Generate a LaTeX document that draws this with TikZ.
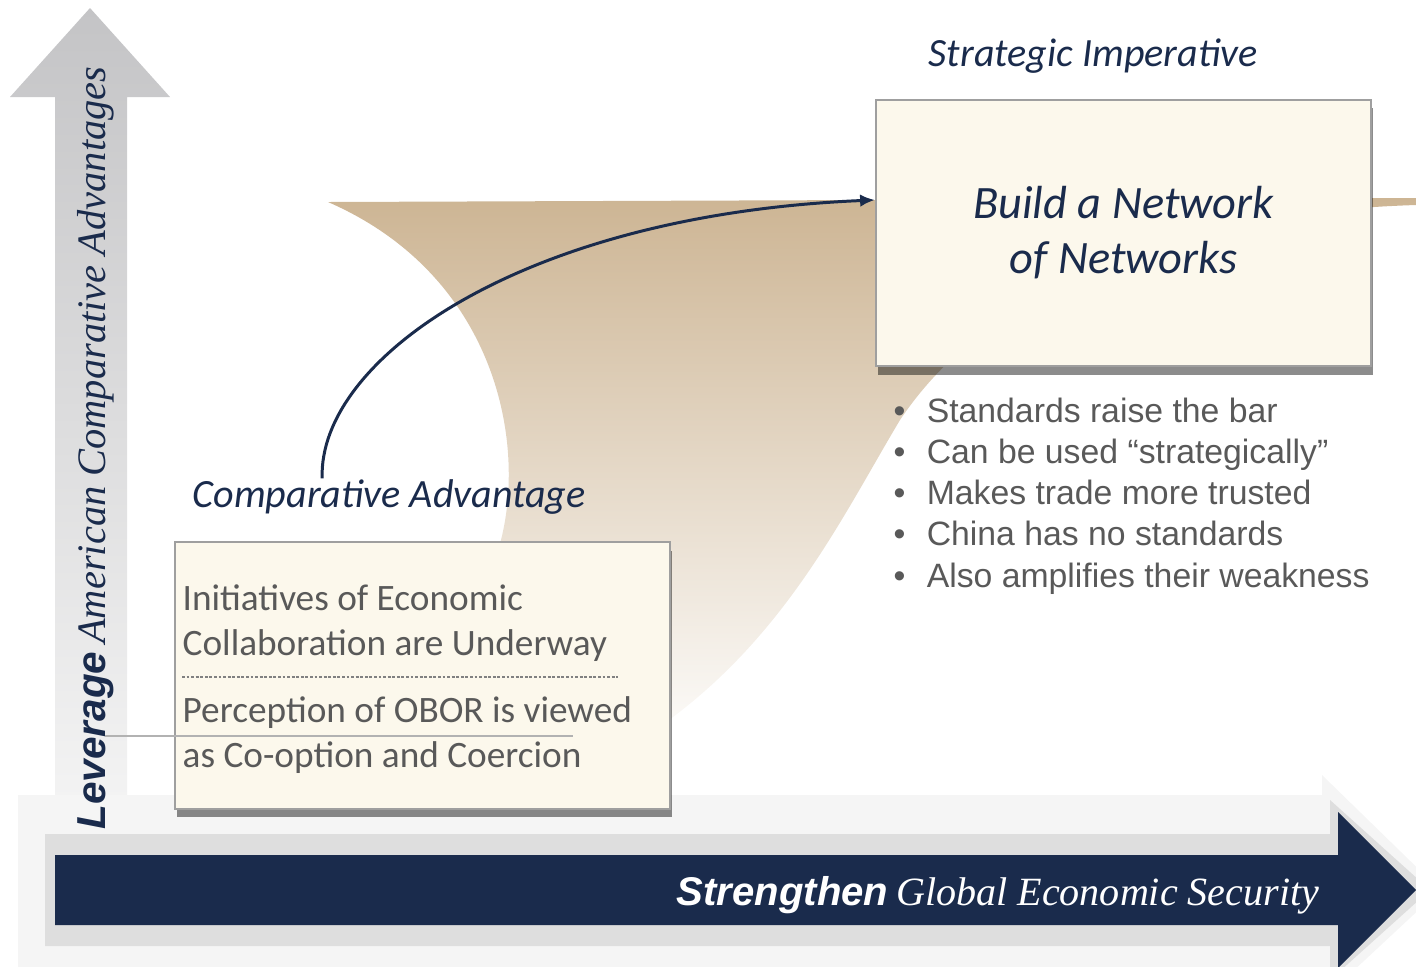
\documentclass[tikz,border=0pt]{standalone}
\usepackage{fontspec}
\setmainfont{Carlito}
\newfontfamily\arialfont{Liberation Sans}
\newfontfamily\timesfont{Liberation Serif}
\usetikzlibrary{arrows.meta, positioning, calc, shadows}
\definecolor{mynavy}{RGB}{26,43,76}
\definecolor{mytan}{RGB}{205,181,148}
\definecolor{mycream}{RGB}{252,248,236}
\definecolor{mygrey}{RGB}{89,89,89}
\definecolor{arrowgrey}{RGB}{196,196,198}

\tikzset{
  card/.style={draw=gray!75, line width=0.6pt, fill=mycream,
    minimum width=140.8pt, minimum height=75.7pt,
    drop shadow={shadow xshift=0.5pt, shadow yshift=-2.4pt, opacity=0.45, fill=black}},
  heading/.style={text=mynavy, font=\itshape\fontsize{11.4}{13}\selectfont, inner sep=0pt},
  boxtext/.style={text=mygrey, align=left, inner sep=0pt, font=\fontsize{10.6}{12.8}\selectfont}
}

\begin{document}
\begin{tikzpicture}[x=0.01cm, y=-0.01cm]
    \clip (0,0) rectangle (1416,966);
    % Vertical axis arrow
    \shade[top color=arrowgrey, bottom color=gray!8]
      (55,830) -- (55,97) -- (10,97) -- (90,8) -- (170,97) -- (127,97) -- (127,830) -- cycle;
    % Horizontal axis arrow (with soft shadow)
    \fill[gray!8] (18,795) -- (1322,795) -- (1322,775) -- (1440,890) -- (1322,1000) -- (1322,985) -- (18,985) -- cycle;
    \fill[gray!26] (45,834) -- (1330,834) -- (1330,800) -- (1430,890) -- (1330,980) -- (1330,946) -- (45,946) -- cycle;
    \fill[mynavy] (55,855) -- (1338,855) -- (1338,812) -- (1416,890) -- (1338,968) -- (1338,925) -- (55,925) -- cycle;
    % Ribbon between the two boxes
    \shade[top color=mytan, middle color=mytan!65, bottom color=mytan!5]
      (328,202) -- (1416,198) -- (1416,205)
      .. controls (1100,215) and (960,330) .. (900,420)
      .. controls (840,520) and (780,650) .. (640,740)
      -- (476,597) .. controls (535,515) and (530,290) .. cycle;
    % Boxes
    \node[card] (lowbox) at (422.5,675.5) {};
    \node[card, text=mynavy, align=center, font=\itshape\fontsize{13.2}{15.6}\selectfont] (impbox) at (1123.5,233) {Build a Network\\of Networks};
    % Labels
    \node[heading, anchor=base west] (stratlbl) at (928,66) {Strategic Imperative};
    \node[heading, anchor=base west] (cadv) at (192,507) {Comparative Advantage};
    \node[boxtext, anchor=base west] (initlbl) at (182,655) {Initiatives of Economic\\Collaboration are Underway};
    \node[boxtext, anchor=base west] (perclbl) at (182,767) {Perception of OBOR is viewed\\as Co-option and Coercion};
    \draw[gray, dash pattern=on 0.8pt off 0.5pt, line width=0.3pt] (182,677) -- (618,677);
    \draw[gray!60, line width=0.4pt] (105,736) -- (573,736);
    \node[anchor=base west, inner sep=0pt, align=left, text=mygrey,
      font=\arialfont\fontsize{9.6}{11.67}\selectfont] (bulletlist) at (893,587)
      {\makebox[9.4pt][l]{\textbullet}Standards raise the bar\\
       \makebox[9.4pt][l]{\textbullet}Can be used “strategically”\\
       \makebox[9.4pt][l]{\textbullet}Makes trade more trusted\\
       \makebox[9.4pt][l]{\textbullet}China has no standards\\
       \makebox[9.4pt][l]{\textbullet}Also amplifies their weakness};
    % Axis titles
    \node[rotate=90, anchor=base west, inner sep=0pt, text=mynavy] (ylbl) at (105,830)
      {{\arialfont\bfseries\itshape\fontsize{11.5}{13}\selectfont Leverage} {\timesfont\itshape\fontsize{11.5}{13}\selectfont American Comparative Advantages}};
    \node[anchor=base east, inner sep=0pt, text=white] (xlbl) at (1320,905)
      {{\arialfont\bfseries\itshape\fontsize{11.4}{13}\selectfont Strengthen} {\timesfont\itshape\fontsize{11.4}{13}\selectfont Global Economic Security}};
    % Connector
    \draw[-{Latex[length=4.2pt, width=3.6pt]}, mynavy, line width=0.85pt]
      ($(cadv.north west)!0.33!(cadv.north east)$) .. controls (318,360) and (520,215) .. ([yshift=9.4pt]impbox.west);
\end{tikzpicture}
\end{document}
